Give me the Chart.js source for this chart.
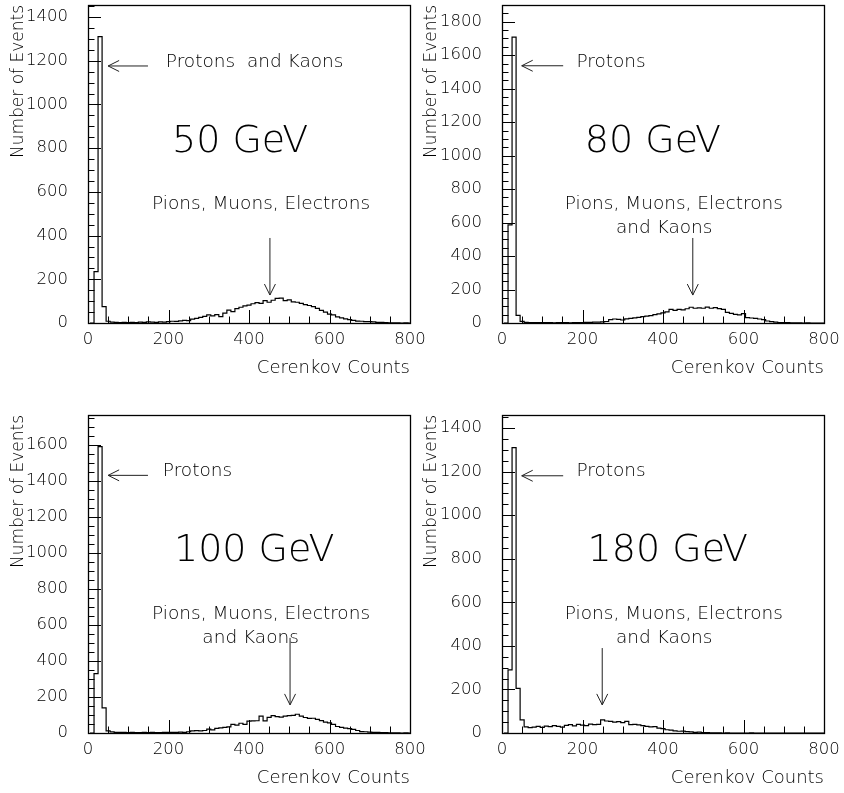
<!DOCTYPE html>
<html><head><meta charset="utf-8">
<script src="https://cdn.jsdelivr.net/npm/chart.js@4"></script>
<style>
html,body{margin:0;padding:0;background:#fff;}
#wrap{position:relative;width:844px;height:793px;overflow:hidden;background:#fff;}
canvas{position:absolute;}
.lbl{position:absolute;white-space:pre;line-height:1;color:#000;transform:translate(-50%,-50%);font-family:"DejaVu Sans",sans-serif;font-weight:200;z-index:3;}
</style></head><body>
<div id="wrap">
<canvas id="c50" width="440" height="396" style="left:0px;top:0px"></canvas>
<canvas id="c80" width="424" height="396" style="left:420px;top:0px"></canvas>
<canvas id="c100" width="440" height="397" style="left:0px;top:396px"></canvas>
<canvas id="c180" width="424" height="397" style="left:420px;top:396px"></canvas>
</div>
<script>
// ---- data ----
const binWidth = 10;
const binLow = [5,15,25,35,45,55,65,75,85,95,
  105,115,125,135,145,155,165,175,185,195,
  205,215,225,235,245,255,265,275,285,295,
  305,315,325,335,345,355,365,375,385,395,
  405,415,425,435,445,455,465,475,485,495,
  505,515,525,535,545,555,565,575,585,595,
  605,615,625,635,645,655,665,675,685,695,
  705,715,725,735,745,755,765,775,785,795];

const counts50 = [0,235,1310,75,8,4,3,2,3,2,
  3,2,4,3,5,4,3,5,4,6,
  8,7,10,12,11,18,21,26,30,37,
  33,38,29,45,59,52,66,72,78,82,
  88,93,90,102,95,104,113,114,102,106,
  97,95,90,84,80,75,67,58,50,41,
  37,28,23,19,15,12,9,8,6,6,
  5,3,3,2,1,1,1,0,1,0];
const counts80 = [0,586,1708,45,10,4,3,2,2,2,
  2,2,1,2,2,2,1,2,3,3,
  4,4,5,5,7,9,20,24,22,18,
  25,28,31,34,38,41,44,50,54,60,
  66,82,76,82,78,85,94,88,90,88,
  95,88,92,86,82,64,58,52,48,56,
  32,30,28,24,20,12,8,5,3,2,
  2,1,1,1,0,1,0,0,0,0];
const counts100 = [0,330,1590,139,12,6,4,3,3,2,
  3,2,2,3,2,3,2,2,3,4,
  3,4,5,4,7,12,13,12,14,22,
  17,26,29,31,34,48,44,54,48,66,
  67,68,94,67,87,96,91,88,94,96,
  98,104,94,86,81,82,76,69,60,56,
  48,36,31,27,24,20,14,8,7,5,
  4,3,2,2,1,1,1,0,1,0];
const counts180 = [0,290,1310,205,60,28,25,27,30,26,
  32,29,34,30,27,35,38,33,40,36,
  34,41,38,40,60,55,53,50,52,48,
  53,38,40,37,34,30,28,29,22,20,
  15,13,10,8,9,6,5,3,4,2,
  2,1,1,1,0,1,0,0,0,0,
  0,1,0,0,0,0,0,0,0,0,
  0,0,0,0,0,0,0,0,0,0];

const xTicks = [0,200,400,600,800];
const yTicks50 = [0,200,400,600,800,1000,1200,1400];
const yTicks80 = [0,200,400,600,800,1000,1200,1400,1600,1800];
const yTicks100 = [0,200,400,600,800,1000,1200,1400,1600];
const yTicks180 = [0,200,400,600,800,1000,1200,1400];

const xTitle = 'Cerenkov Counts';
const yTitle = 'Number of Events';

// annotations in data coordinates
const ann50 = {
  big: {x:378, y:842, text:'50 GeV'},
  texts: [{x:414, y:1199, text:'Protons  and Kaons'}, {x:430, y:549, text:'Pions, Muons, Electrons'}],
  arrows: [{x1:149, y1:1176, x2:50, y2:1176}, {x1:452, y1:389, x2:452, y2:128}]
};
const ann80 = {
  big: {x:375, y:1100, text:'80 GeV'},
  texts: [{x:271, y:1567, text:'Protons'}, {x:427, y:718, text:'Pions, Muons, Electrons'}, {x:403, y:574, text:'and Kaons'}],
  arrows: [{x1:152, y1:1537, x2:49, y2:1537}, {x1:474, y1:508, x2:474, y2:167}]
};
const ann100 = {
  big: {x:413, y:1029, text:'100 GeV'},
  texts: [{x:272, y:1461, text:'Protons'}, {x:430, y:667, text:'Pions, Muons, Electrons'}, {x:404, y:535, text:'and Kaons'}],
  arrows: [{x1:149, y1:1430, x2:50, y2:1430}, {x1:502, y1:528, x2:502, y2:156}]
};
const ann180 = {
  big: {x:412, y:850, text:'180 GeV'},
  texts: [{x:271, y:1207, text:'Protons'}, {x:427, y:551, text:'Pions, Muons, Electrons'}, {x:403, y:442, text:'and Kaons'}],
  arrows: [{x1:152, y1:1181, x2:49, y2:1181}, {x1:249, y1:390, x2:249, y2:129}]
};

// ---- rendering ----
const FAMILY = '"DejaVu Sans ExtraLight", "DejaVu Sans", sans-serif';
const WEIGHT = '200';

function histPoints(edges, counts) {
  const pts = [{x: edges[0], y: 0}];
  for (let i = 0; i < edges.length; i++) pts.push({x: edges[i], y: counts[i]});
  const end = edges[edges.length - 1] + binWidth;
  pts.push({x: end, y: counts[counts.length - 1]});
  pts.push({x: end, y: 0});
  return pts;
}

function subdivide(major, n, max) {
  const out = [];
  for (let i = 0; i < major.length - 1; i++) {
    const s = (major[i + 1] - major[i]) / n;
    for (let k = 1; k < n; k++) out.push(major[i] + k * s);
  }
  const step = (major[1] - major[0]) / n;
  let v = major[major.length - 1] + step;
  while (v <= max + 1e-9) { out.push(v); v += step; }
  return out;
}

const frameAndTicks = {
  id: 'frameAndTicks',
  afterDatasetsDraw(chart) {
    const {ctx, chartArea: ca} = chart;
    const xs = chart.scales.x, ys = chart.scales.y;
    ctx.save();
    ctx.strokeStyle = '#000';
    ctx.lineWidth = 1;
    ctx.beginPath();
    const yMaj = ys.ticks.map(t => t.value);
    const xMaj = xs.ticks.map(t => t.value);
    yMaj.forEach(v => { const p = Math.round(ys.getPixelForValue(v)) + 0.5; ctx.moveTo(ca.left, p); ctx.lineTo(ca.left + 13, p); });
    subdivide(yMaj, 4, ys.max).forEach(v => { const p = Math.round(ys.getPixelForValue(v)) + 0.5; ctx.moveTo(ca.left, p); ctx.lineTo(ca.left + 6.5, p); });
    xMaj.forEach(v => { const p = Math.round(xs.getPixelForValue(v)) + 0.5; ctx.moveTo(p, ca.bottom); ctx.lineTo(p, ca.bottom - 13); });
    subdivide(xMaj, 4, xs.max).forEach(v => { const p = Math.round(xs.getPixelForValue(v)) + 0.5; ctx.moveTo(p, ca.bottom); ctx.lineTo(p, ca.bottom - 6.5); });
    ctx.stroke();
    ctx.lineWidth = 1.3;
    ctx.strokeRect(Math.round(ca.left) + 0.5, Math.round(ca.top) + 0.5, Math.round(ca.width), Math.round(ca.height));
    ctx.restore();
  }
};

// arrows drawn on the canvas through the chart's scales
const arrowPlugin = {
  id: 'arrowPlugin',
  afterDraw(chart, args, opts) {
    const a = opts.ann; if (!a) return;
    const {ctx} = chart;
    const xs = chart.scales.x, ys = chart.scales.y;
    ctx.save();
    ctx.strokeStyle = '#222';
    ctx.lineWidth = 1;
    a.arrows.forEach(r => {
      const x1 = xs.getPixelForValue(r.x1), y1 = ys.getPixelForValue(r.y1);
      const x2 = xs.getPixelForValue(r.x2), y2 = ys.getPixelForValue(r.y2);
      const ang = Math.atan2(y2 - y1, x2 - x1);
      const L = 11, W = 5.5;
      const bx = x2 - L * Math.cos(ang), by = y2 - L * Math.sin(ang);
      const nx = -Math.sin(ang) * W, ny = Math.cos(ang) * W;
      ctx.beginPath();
      ctx.moveTo(x1, y1); ctx.lineTo(x2, y2);
      ctx.moveTo(bx + nx, by + ny); ctx.lineTo(x2, y2); ctx.lineTo(bx - nx, by - ny);
      ctx.stroke();
    });
    ctx.restore();
  }
};

// text labels as real HTML text, positioned through the chart's scales
function placeLabels(chart, canvas, a) {
  const wrap = document.getElementById('wrap');
  const xs = chart.scales.x, ys = chart.scales.y;
  const ox = canvas.offsetLeft, oy = canvas.offsetTop;
  const items = [{t: a.big, size: 38}].concat(a.texts.map(t => ({t: t, size: 18.5})));
  items.forEach(it => {
    const d = document.createElement('div');
    d.className = 'lbl';
    d.textContent = it.t.text;
    d.style.fontSize = it.size + 'px';
    d.style.left = (ox + xs.getPixelForValue(it.t.x)) + 'px';
    d.style.top = (oy + ys.getPixelForValue(it.t.y)) + 'px';
    wrap.appendChild(d);
  });
}

const panels = [
  {id:'c50',  counts:counts50,  yTicks:yTicks50,  ymax:1455, yAxisW:88, padTop:5,  padRight:30, padBottom:17, titlePad:8.8, ann:ann50},
  {id:'c80',  counts:counts80,  yTicks:yTicks80,  ymax:1900, yAxisW:82, padTop:5,  padRight:20, padBottom:17, titlePad:1.8, ann:ann80},
  {id:'c100', counts:counts100, yTicks:yTicks100, ymax:1765, yAxisW:88, padTop:19, padRight:30, padBottom:4,  titlePad:8.3, ann:ann100},
  {id:'c180', counts:counts180, yTicks:yTicks180, ymax:1460, yAxisW:82, padTop:19, padRight:20, padBottom:4,  titlePad:1.3, ann:ann180}
];

let drawn = false;
function drawAll() {
  if (drawn) return; drawn = true;
  panels.forEach(p => {
    const canvas = document.getElementById(p.id);
    const chart = new Chart(canvas, {
      type: 'line',
      data: {
        datasets: [{
          data: histPoints(binLow, p.counts),
          stepped: 'before',
          borderColor: '#000',
          borderWidth: 1.2,
          pointRadius: 0,
          fill: false,
          tension: 0
        }]
      },
      options: {
        responsive: false,
        animation: false,
        events: [],
        layout: {padding: {left: 0, top: p.padTop, right: p.padRight, bottom: p.padBottom}},
        plugins: {
          legend: {display: false},
          tooltip: {enabled: false},
          arrowPlugin: {ann: p.ann}
        },
        scales: {
          x: {
            type: 'linear', min: 0, max: 800,
            afterBuildTicks: s => { s.ticks = xTicks.map(v => ({value: v})); },
            afterFit: s => { s.height = 56; s.paddingLeft = 0; s.paddingRight = 0; s.paddingTop = 0; s.paddingBottom = 0; },
            grid: {display: false, drawTicks: false},
            border: {display: false},
            ticks: {color: '#000', padding: 7, maxRotation: 0, autoSkip: false, callback: v => String(v), font: {family: FAMILY, size: 16.5, weight: WEIGHT}},
            title: {display: true, text: xTitle, align: 'end', color: '#000', padding: 0, font: {family: FAMILY, size: 18, weight: WEIGHT}}
          },
          y: {
            type: 'linear', min: 0, max: p.ymax,
            afterBuildTicks: s => { s.ticks = p.yTicks.map(v => ({value: v})); },
            afterFit: s => { s.width = p.yAxisW; s.paddingLeft = 0; s.paddingRight = 0; s.paddingTop = 0; s.paddingBottom = 0; },
            grid: {display: false, drawTicks: false},
            border: {display: false},
            ticks: {color: '#000', padding: 20, autoSkip: false, callback: v => String(v), font: {family: FAMILY, size: 16.5, weight: WEIGHT}},
            title: {display: true, text: yTitle, align: 'end', color: '#000', padding: {top: p.titlePad, bottom: 0}, font: {family: FAMILY, size: 17, weight: WEIGHT}}
          }
        }
      },
      plugins: [frameAndTicks, arrowPlugin]
    });
    placeLabels(chart, canvas, p.ann);
  });
}

const loads = ['200 38px "DejaVu Sans"', '200 17px "DejaVu Sans"', '38px "DejaVu Sans ExtraLight"'].map(f => document.fonts.load(f).catch(() => null));
Promise.all(loads).then(drawAll, drawAll);
setTimeout(drawAll, 1500);
</script>
</body></html>
